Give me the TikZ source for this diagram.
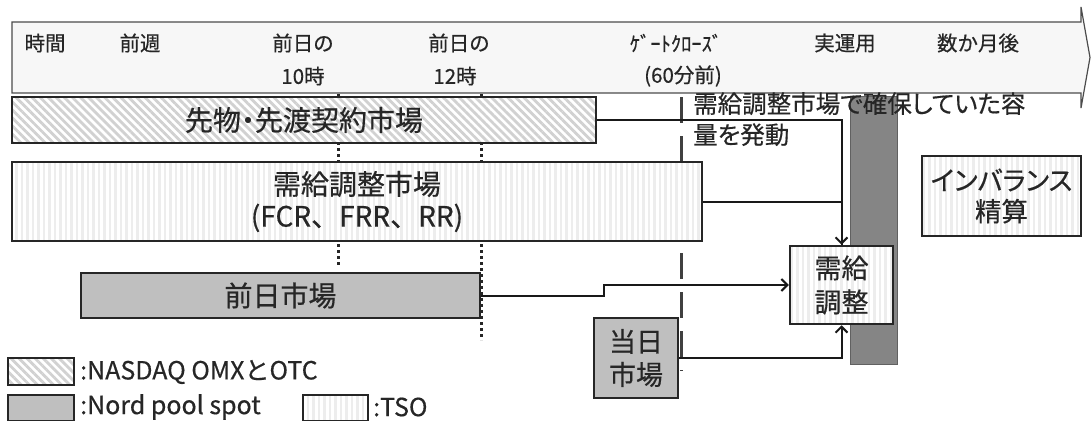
\documentclass[tikz,border=0pt]{standalone}
\usepackage{fontspec}
\setmainfont[FakeBold=0.5]{Noto Sans CJK JP}
\newfontfamily\kanafont[RawFeature=+palt,FakeBold=0.5]{Noto Sans CJK JP}
\usetikzlibrary{patterns.meta,arrows.meta}

\begin{document}
\begin{tikzpicture}[x=1pt,y=-1pt]
        \tikzstyle{tick} = [text=black!85, font=\fontsize{20.5}{24}\selectfont, inner sep=0pt]
        \tikzstyle{mkt} = [rectangle, draw=black!85, line width=2.5pt, text=black!85, align=center, font=\kanafont\fontsize{28}{32}\selectfont, inner sep=0pt]
        \tikzstyle{fwdbox} = [mkt, preaction={fill=white}, pattern={Lines[angle=-45,distance=5.7pt,line width=2.8pt]}, pattern color=black!18]
        \tikzstyle{tsobox} = [mkt, preaction={fill=white}, pattern={Lines[angle=90,distance=5.5pt,line width=2.5pt]}, pattern color=black!7]
        \tikzstyle{spotbox} = [mkt, fill=black!25]
        \tikzstyle{arrow} = [line width=2pt, black!90, -{Straight Barb[length=6pt,width=12pt]}]
        \tikzstyle{link} = [line width=2pt, black!90]
        \tikzstyle{marker} = [line width=3pt, black!85, dash pattern=on 3pt off 3pt]
        \tikzstyle{legend} = [anchor=west, text=black!85, font=\fontsize{25}{28}\selectfont, inner sep=0pt]

        \useasboundingbox (0,0) rectangle (1091,420);

        % time axis
        \draw[fill=black!3, draw=black!70, line width=1.2pt] (12,22) -- (1081,22) -- (1081,7) -- (1090,57.5) -- (1081,108) -- (1081,93) -- (12,93) -- cycle;
        \node (t1) [tick] at (45,43) {時間};
        \node (t2) [tick] at (140,43) {前週};
        \node (t3) [tick] at (303,43) {前日の};
        \node (t3b) [tick] at (303,76) {10時};
        \node (t4) [tick] at (459,43) {前日の};
        \node (t4b) [tick] at (455,76) {12時};
        \node (t5) [tick] at (676,43) {ｹﾞｰﾄｸﾛｰｽﾞ};
        \node (t5b) [tick] at (683,76) {(60分前)};
        \node (t6) [tick] at (845,43) {実運用};
        \node (t7) [tick] at (978,43) {数か月後};

        % time markers
        \coordinate (c10) at (338,94);
        \coordinate (c12) at (481,94);
        \coordinate (gc) at (681,97);
        \draw[marker] (c10) -- ++(0,173);
        \draw[marker] (c12) -- ++(0,246);
        \draw[line width=3pt, black!75, dash pattern=on 26pt off 13pt] (gc) -- ++(0,274);

        % markets
        \node (fwd) [fwdbox, minimum width=584, minimum height=46] at (304,120) {先物・先渡契約市場};
        \node (bal) [tsobox, minimum width=690, minimum height=79] at (357,201.5) {需給調整市場\\{\normalfont(FCR、FRR、RR)}};
        \node (da) [spotbox, minimum width=399, minimum height=45] at (280.5,295.5) {前日市場};
        \node (id) [spotbox, minimum width=84, minimum height=80, font=\kanafont\fontsize{27}{33}\selectfont] at (636,358) {当日\\市場};

        % real time operation
        \node (rt) [rectangle, fill=black!48, draw=black!62, line width=1pt, minimum width=47, minimum height=268] at (873.5,230) {};
        \node (note) [anchor=north west, align=left, text=black!85, font=\kanafont\fontsize{24.5}{31}\selectfont, inner sep=0pt] at (693,92) {需給調整市場で確保していた容\\量を発動};
        \node (adj) [tsobox, minimum width=103, minimum height=78, font=\kanafont\fontsize{27}{34}\selectfont] at (841.5,285) {需給\\調整};
        \node (imb) [tsobox, minimum width=159, minimum height=80, font=\kanafont\fontsize{26.5}{31}\selectfont] at (1001.5,196) {インバランス\\精算};

        \draw[arrow] (fwd.east) -| (adj.north);
        \draw[link] (bal.east) -| (adj.north);
        \draw[arrow] (da.east) -- ++(123,0) |- (adj.west);
        \draw[arrow] (id.east) -| (adj.south);

        % legend
        \node (lfwd) [fwdbox, minimum width=66, minimum height=27] at (41,371.5) {};
        \node (lspot) [spotbox, minimum width=66, minimum height=26] at (41,408) {};
        \node (ltso) [tsobox, minimum width=65, minimum height=26] at (335.5,408) {};
        \node [legend] at (80,372) {:NASDAQ OMXとOTC};
        \node [legend] at (80,407) {:Nord pool spot};
        \node [legend] at (373,407) {:TSO};
\end{tikzpicture}
\end{document}
